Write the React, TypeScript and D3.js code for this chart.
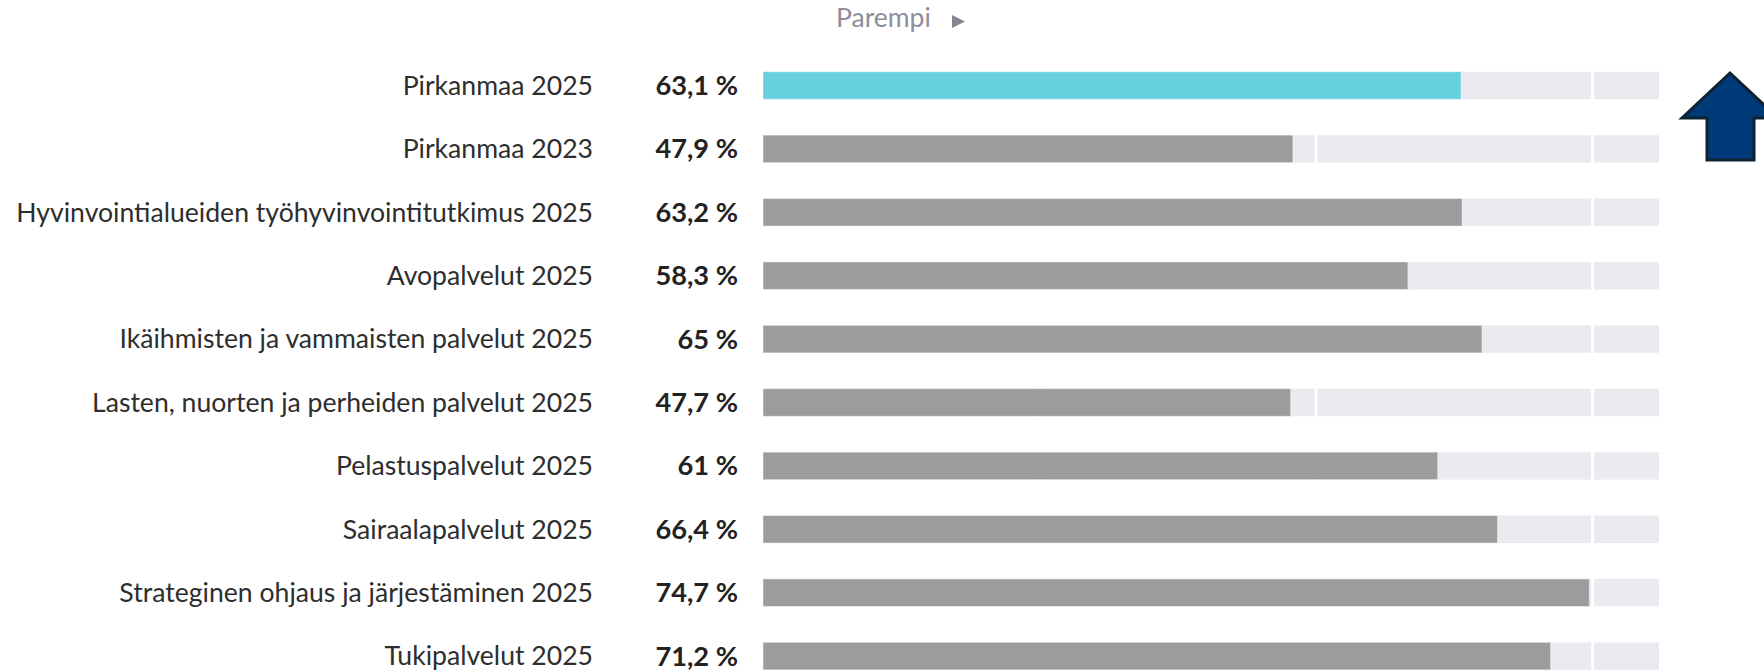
import * as d3 from "d3";

const categories = [
  "Pirkanmaa 2025",
  "Pirkanmaa 2023",
  "Hyvinvointialueiden työhyvinvointitutkimus 2025",
  "Avopalvelut 2025",
  "Ikäihmisten ja vammaisten palvelut 2025",
  "Lasten, nuorten ja perheiden palvelut 2025",
  "Pelastuspalvelut 2025",
  "Sairaalapalvelut 2025",
  "Strateginen ohjaus ja järjestäminen 2025",
  "Tukipalvelut 2025",
];
const values = [63.1, 47.9, 63.2, 58.3, 65, 47.7, 61, 66.4, 74.7, 71.2];
const highlighted = ["Pirkanmaa 2025"];
const trackBreaks = [25, 50, 75];
const scaleMax = 81;
const directionLabel = "Parempi";

const W = 1764;
const H = 672;
const font = "Lato, 'Noto Sans', sans-serif";

const fmt = (v: number) => String(v).replace(".", ",") + " %";

export default function App() {
  const x = d3.scaleLinear().domain([0, scaleMax]).range([763, 1659]);
  const y = d3
    .scaleBand<string>()
    .domain(categories)
    .range([53.8, 53.8 + 634])
    .paddingInner(0.566)
    .paddingOuter(0.283);
  const bh = y.bandwidth();

  // track segments split at the break values
  const edges = [0, ...trackBreaks, scaleMax];
  const segments = d3.pairs(edges);
  const gap = 3;

  return (
    <svg
      width={W}
      height={H}
      style={{ position: "absolute", left: 0, top: 0, background: "#fff" }}
    >
      {/* header */}
      <text x={836} y={27} fontFamily={font} fontSize={26.5} fill="#8d8d9c">
        {directionLabel}
      </text>
      <path d="M952,15 L965,21.5 L952,28 Z" fill="#85858f" />

      {categories.map((c, i) => {
        const y0 = y(c)!;
        const v = values[i];
        const cy = y0 + bh / 2;
        return (
          <g key={c}>
            <text
              x={593}
              y={cy}
              dy="0.35em"
              textAnchor="end"
              fontFamily={font}
              fontSize={26.6}
              fill="#2e2e2e"
            >
              {c}
            </text>
            <text
              x={738}
              y={cy}
              dy="0.35em"
              textAnchor="end"
              fontFamily={font}
              fontSize={27.2}
              fontWeight={700}
              fill="#222"
            >
              {fmt(v)}
            </text>
            {segments.map(([a, b], j) => {
              const xa = x(a) + (j > 0 ? gap / 2 : 0);
              const xb = x(b) - (j < segments.length - 1 ? gap / 2 : 0);
              return (
                <rect
                  key={j}
                  x={xa}
                  y={y0}
                  width={xb - xa}
                  height={bh}
                  fill="#ebeaf0"
                />
              );
            })}
            <rect
              x={x(0)}
              y={y0}
              width={x(v) - x(0)}
              height={bh}
              fill={highlighted.includes(c) ? "#66d0dd" : "#9c9c9c"}
              stroke="rgba(255,255,255,0.45)"
              strokeWidth={1}
            />
          </g>
        );
      })}

      {/* annotation arrow */}
      <path
        d="M1730,73 L1778,118 L1754,118 L1754,160 L1707,160 L1707,118 L1682,118 Z"
        fill="#003a78"
        stroke="#0e2233"
        strokeWidth={3}
        strokeLinejoin="miter"
      />
    </svg>
  );
}
